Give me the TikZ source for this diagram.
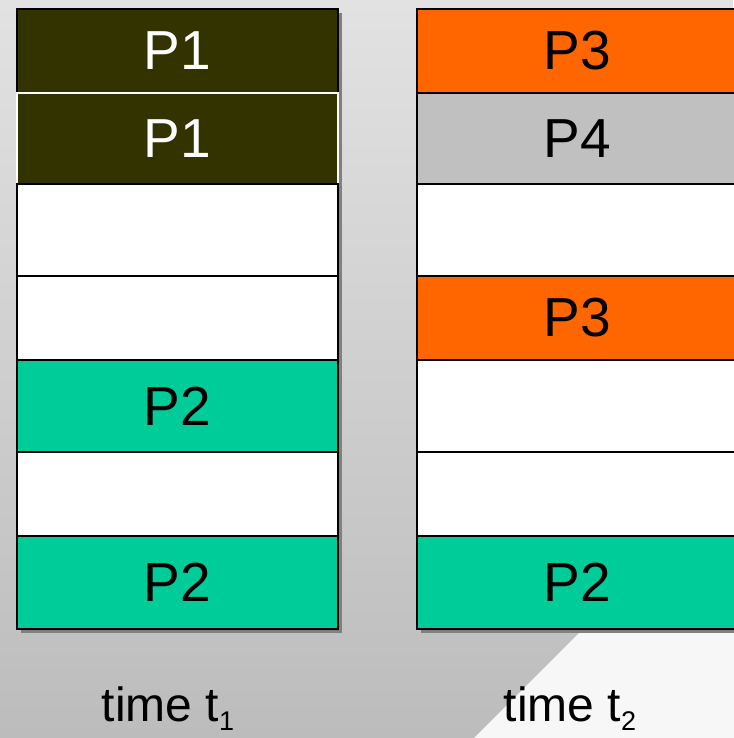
\documentclass[tikz,border=0pt]{standalone}
\usepackage{fontspec}
\setmainfont{Liberation Sans}
\definecolor{pone}{HTML}{333300}
\definecolor{pthree}{HTML}{FF6600}
\definecolor{pfour}{HTML}{C0C0C0}
\definecolor{ptwo}{HTML}{00CC99}
\definecolor{shadowgray}{HTML}{808080}
\definecolor{bgtop}{HTML}{E2E2E2}
\definecolor{bgbottom}{HTML}{BCBCBC}
\definecolor{lightcorner}{HTML}{F7F7F7}
\tikzset{
  cell/.style={draw=black, line width=2pt, fill=white, minimum width=321pt, inner sep=0pt,
    anchor=north west, font=\fontsize{55}{60}\selectfont},
  lbl/.style={inner sep=0pt, anchor=base, font=\fontsize{48}{52}\selectfont},
  colshadow/.style={fill=shadowgray, draw=none}
}
\newcommand{\subnum}[1]{\raisebox{-9pt}{\fontsize{27}{28}\selectfont #1}}
\begin{document}
\begin{tikzpicture}[x=1pt,y=-1pt]
\useasboundingbox (0,0) rectangle (733,738);
% background
\shade[top color=bgtop, bottom color=bgbottom] (0,0) rectangle (733,738);
\fill[lightcorner] (732,480) -- (740,480) -- (740,740) -- (472,740) -- cycle;
% shadows
\fill[colshadow] (21,13) rectangle (342,633);
\fill[colshadow] (421,13) rectangle (742,633);
% left column (time t1)
\node[cell, fill=pone, text=white, minimum height=84pt] (a1) at (16,8) {P1};
\node[cell, fill=pone, draw=white, text=white, minimum height=91pt] (a2) at (16,92) {P1};
\node[cell, minimum height=92pt] (a3) at (16,183) {};
\node[cell, minimum height=84pt] (a4) at (16,275) {};
\node[cell, fill=ptwo, minimum height=92pt] (a5) at (16,359) {P2};
\node[cell, minimum height=84pt] (a6) at (16,451) {};
\node[cell, fill=ptwo, minimum height=93pt] (a7) at (16,535) {P2};
% right column (time t2)
\node[cell, fill=pthree, minimum height=84pt] (b1) at (416,8) {P3};
\node[cell, fill=pfour, minimum height=91pt] (b2) at (416,92) {P4};
\node[cell, minimum height=92pt] (b3) at (416,183) {};
\node[cell, fill=pthree, minimum height=84pt] (b4) at (416,275) {P3};
\node[cell, minimum height=92pt] (b5) at (416,359) {};
\node[cell, minimum height=84pt] (b6) at (416,451) {};
\node[cell, fill=ptwo, minimum height=93pt] (b7) at (416,535) {P2};
% labels
\node[lbl] (l1) at (168,721) {time t\subnum{1}};
\node[lbl] (l2) at (570,721) {time t\subnum{2}};
\end{tikzpicture}
\end{document}
